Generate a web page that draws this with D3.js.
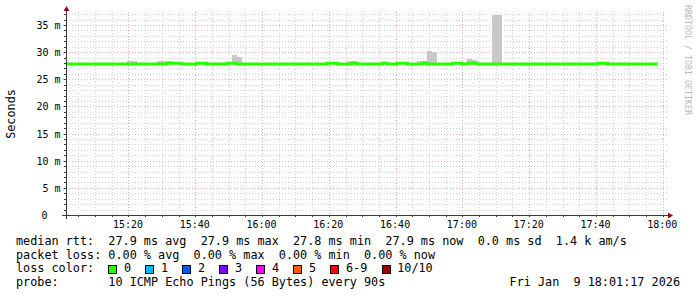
<!DOCTYPE html>
<html>
<head>
<meta charset="utf-8">
<script src="https://cdn.jsdelivr.net/npm/d3@7.9.0/dist/d3.min.js"></script>
<style>
  body { margin: 0; background: #fff; }
  svg { display: block; font-family: "DejaVu Sans Mono", monospace; }
  text { white-space: pre; }
</style>
</head>
<body>
<svg id="chart" width="697" height="297"></svg>
<script>
// time window shown (last 3 hours) and the 90s sample grid
const startTime = new Date(2026, 0, 9, 15, 1, 17);
const endTime = new Date(2026, 0, 9, 18, 1, 17);
const firstSample = new Date(2026, 0, 9, 15, 1, 30);
const stepSeconds = 90;

// median rtt per 90s step (ms)
const medianMs = [
  27.8, 27.8, 27.8, 27.8, 27.8, 27.8, 27.8, 27.8, 27.8, 27.8,
  27.8, 27.8, 27.8, 27.8, 27.8, 27.8, 27.8, 27.8, 27.8, 27.8,
  27.95, 27.95, 27.95, 27.8, 27.8, 27.8, 27.95, 27.95, 27.8, 27.8,
  27.8, 27.8, 27.95, 27.95, 27.8, 27.8, 27.8, 27.8, 27.8, 27.8,
  27.8, 27.8, 27.8, 27.8, 27.8, 27.8, 27.8, 27.8, 27.8, 27.8,
  27.8, 27.8, 27.95, 27.95, 27.8, 27.8, 27.8, 27.95, 27.8, 27.8,
  27.8, 27.8, 27.8, 27.95, 27.8, 27.8, 27.95, 27.95, 27.8, 27.8,
  27.8, 27.95, 27.8, 27.8, 27.8, 27.8, 27.8, 27.95, 27.95, 27.8,
  27.95, 27.95, 27.8, 27.8, 27.8, 27.8, 27.8, 27.8, 27.8, 27.8,
  27.8, 27.8, 27.8, 27.8, 27.8, 27.8, 27.8, 27.8, 27.8, 27.8,
  27.8, 27.8, 27.8, 27.8, 27.8, 27.8, 27.95, 27.95, 27.8, 27.8,
  27.8, 27.8, 27.8, 27.8, 27.8, 27.8, 27.8, 27.8
];

// steps with visible smoke (slowest ping above the median), and its top (ms)
const smokeSteps = [12, 13, 18, 19, 20, 21, 33, 34, 56, 57, 70, 71, 72, 73, 80, 81, 85, 86];
const smokeTopMs = [28.42, 28.42, 28.42, 28.42, 28.42, 28.24, 29.53, 29.1, 28.42, 28.42,
                    28.37, 28.37, 30.2, 29.97, 28.8, 28.55, 36.9, 36.9];

const yTicks = [0, 5, 10, 15, 20, 25, 30, 35];
const yTickLabels = ['0', '5 m', '10 m', '15 m', '20 m', '25 m', '30 m', '35 m'];

const lossLabels = ['0', '1', '2', '3', '4', '5', '6-9', '10/10'];
const lossColors = ['#26ff00', '#00b8ff', '#0059ff', '#7e00ff', '#ff00ff', '#ff5e00', '#ff0000', '#a10000'];

const medianLine = 'median rtt:  27.9 ms avg  27.9 ms max  27.8 ms min  27.9 ms now  0.0 ms sd  1.4 k am/s';
const lossLine = 'packet loss: 0.00 % avg  0.00 % max  0.00 % min  0.00 % now';
const probeLine = 'probe:       10 ICMP Echo Pings (56 Bytes) every 90s';
const stampText = 'Fri Jan  9 18:01:17 2026';

const svg = d3.select('#chart');
const width = 697;

const plotLeft = 66, plotRight = 667, plotTop = 12, plotBottom = 215;

const x = d3.scaleTime().domain([startTime, endTime]).range([plotLeft, plotRight]);
const y = d3.scaleLinear().domain([0, 37.4]).range([plotBottom, plotTop]);

const stepTime = (k) => new Date(firstSample.getTime() + k * stepSeconds * 1000);

svg.append('rect').attr('width', width).attr('height', 297).attr('fill', '#fff');

// grid
const minorColor = '#d4d4d4';
const majorColor = '#eba9a9';
const grid = svg.append('g').attr('shape-rendering', 'crispEdges');
const minorY = d3.range(1, 38).filter((v) => v % 5 !== 0);
const minorX = d3.timeMinute.every(5).range(startTime, endTime).filter((t) => t.getMinutes() % 20 !== 0);
const majorX = d3.timeMinute.every(20).range(startTime, endTime);

grid.selectAll('line.minor-y').data(minorY).join('line')
  .attr('x1', plotLeft).attr('x2', plotRight + 1)
  .attr('y1', (d) => Math.round(y(d)) + 0.5).attr('y2', (d) => Math.round(y(d)) + 0.5)
  .attr('stroke', minorColor).attr('stroke-dasharray', '1,2');
grid.selectAll('line.minor-x').data(minorX).join('line')
  .attr('y1', plotTop).attr('y2', plotBottom)
  .attr('x1', (d) => Math.round(x(d)) + 0.5).attr('x2', (d) => Math.round(x(d)) + 0.5)
  .attr('stroke', minorColor).attr('stroke-dasharray', '1,2');
grid.selectAll('line.major-y').data(yTicks.slice(1)).join('line')
  .attr('x1', plotLeft - 3).attr('x2', plotRight + 1)
  .attr('y1', (d) => Math.round(y(d)) + 0.5).attr('y2', (d) => Math.round(y(d)) + 0.5)
  .attr('stroke', majorColor).attr('stroke-dasharray', '1,2');
grid.selectAll('line.major-x').data(majorX).join('line')
  .attr('y1', plotTop).attr('y2', plotBottom + 3)
  .attr('x1', (d) => Math.round(x(d)) + 0.5).attr('x2', (d) => Math.round(x(d)) + 0.5)
  .attr('stroke', majorColor).attr('stroke-dasharray', '1,2');

// smoke
svg.append('g').attr('shape-rendering', 'crispEdges')
  .selectAll('rect').data(smokeSteps).join('rect')
  .attr('x', (k) => x(stepTime(k)))
  .attr('width', (k) => x(stepTime(k + 1)) - x(stepTime(k)))
  .attr('y', (k, i) => y(smokeTopMs[i]))
  .attr('height', (k, i) => y(medianMs[k]) - y(smokeTopMs[i]))
  .attr('fill', '#c8c8c8');

// median line
const medianPts = medianMs.map((v, k) => [stepTime(k), v]);
medianPts.push([stepTime(medianMs.length), medianMs[medianMs.length - 1]]);
svg.append('path')
  .attr('d', d3.line().x((d) => x(d[0])).y((d) => y(d[1])).curve(d3.curveStepAfter)(medianPts))
  .attr('fill', 'none').attr('stroke', '#26ff00').attr('stroke-width', 3);

// axes
const axisColor = '#3a3a3a';
const yAxis = svg.append('g').attr('transform', `translate(${plotLeft + 0.5},0)`)
  .call(d3.axisLeft(y).tickValues(yTicks).tickSize(0).tickFormat((d, i) => yTickLabels[i]));
yAxis.select('.domain').remove();
yAxis.selectAll('text')
  .attr('x', (d) => (d === 0 ? -19 : -6))
  .attr('dy', '0.35em')
  .attr('font-family', '"DejaVu Sans Mono", monospace')
  .attr('font-size', 10).attr('fill', '#000');

const xAxis = svg.append('g').attr('transform', `translate(0,${plotBottom + 0.5})`)
  .call(d3.axisBottom(x).tickValues(majorX).tickSize(0).tickFormat(d3.timeFormat('%H:%M')));
xAxis.select('.domain').remove();
xAxis.selectAll('text')
  .attr('y', 5).attr('dy', '0.71em').attr('dx', -1)
  .attr('font-family', '"DejaVu Sans Mono", monospace')
  .attr('font-size', 10).attr('fill', '#000');

// axis tick marks
const ticksG = svg.append('g').attr('stroke', axisColor).attr('shape-rendering', 'crispEdges');
ticksG.selectAll('line.ty').data(d3.range(0, 38)).join('line')
  .attr('x1', plotLeft - 2).attr('x2', plotLeft)
  .attr('y1', (d) => Math.round(y(d)) + 0.5).attr('y2', (d) => Math.round(y(d)) + 0.5);
ticksG.selectAll('line.tx').data(minorX.concat(majorX)).join('line')
  .attr('y1', plotBottom).attr('y2', plotBottom + 2)
  .attr('x1', (d) => Math.round(x(d)) + 0.5).attr('x2', (d) => Math.round(x(d)) + 0.5);

svg.append('line').attr('x1', plotLeft + 0.5).attr('x2', plotLeft + 0.5).attr('y1', plotBottom + 4).attr('y2', plotTop - 2)
  .attr('stroke', axisColor).attr('shape-rendering', 'crispEdges');
svg.append('line').attr('x1', plotLeft - 4).attr('x2', plotRight + 2).attr('y1', plotBottom + 0.5).attr('y2', plotBottom + 0.5)
  .attr('stroke', axisColor).attr('shape-rendering', 'crispEdges');

const arrowColor = '#8b1010';
svg.append('path').attr('d', `M${plotLeft - 2.5},${plotTop - 1}L${plotLeft + 3.5},${plotTop - 1}L${plotLeft + 0.5},${plotTop - 6}Z`).attr('fill', arrowColor);
svg.append('path').attr('d', `M${plotRight + 1},${plotBottom - 2.5}L${plotRight + 1},${plotBottom + 3.5}L${plotRight + 6},${plotBottom + 0.5}Z`).attr('fill', arrowColor);

// axis title
svg.append('text')
  .attr('transform', 'translate(15,114) rotate(-90)')
  .attr('text-anchor', 'middle')
  .attr('font-size', 11.8).attr('fill', '#000')
  .text('Seconds');

// watermark
svg.append('text')
  .attr('transform', 'translate(685,5) rotate(90)')
  .attr('font-size', 8.3).attr('fill', '#b8b8b8')
  .text('RRDTOOL / TOBI OETIKER');

// legend
const legend = svg.append('g').attr('font-size', 11.8).attr('fill', '#000');
legend.append('text').attr('x', 16).attr('y', 245).text(medianLine);
legend.append('text').attr('x', 16).attr('y', 258.5).text(lossLine);
legend.append('text').attr('x', 16).attr('y', 272).text('loss color:');
legend.append('text').attr('x', 16).attr('y', 285.5).text(probeLine);
legend.append('text').attr('x', 680).attr('y', 285.5).attr('text-anchor', 'end').text(stampText);

let bx = 108.3;
const boxX = lossLabels.map((lab) => {
  const cur = bx;
  bx += 15.7 + lab.length * 7.1 + 14.2;
  return cur;
});
const lossItems = legend.selectAll('g.loss').data(lossLabels).join('g');
lossItems.append('rect')
  .attr('x', (d, i) => Math.round(boxX[i]) + 0.5).attr('y', 265.5)
  .attr('width', 8).attr('height', 8)
  .attr('fill', (d, i) => lossColors[i]).attr('stroke', '#000').attr('stroke-width', 1);
lossItems.append('text')
  .attr('x', (d, i) => boxX[i] + 15.7).attr('y', 272)
  .text((d) => d);
</script>
</body>
</html>
